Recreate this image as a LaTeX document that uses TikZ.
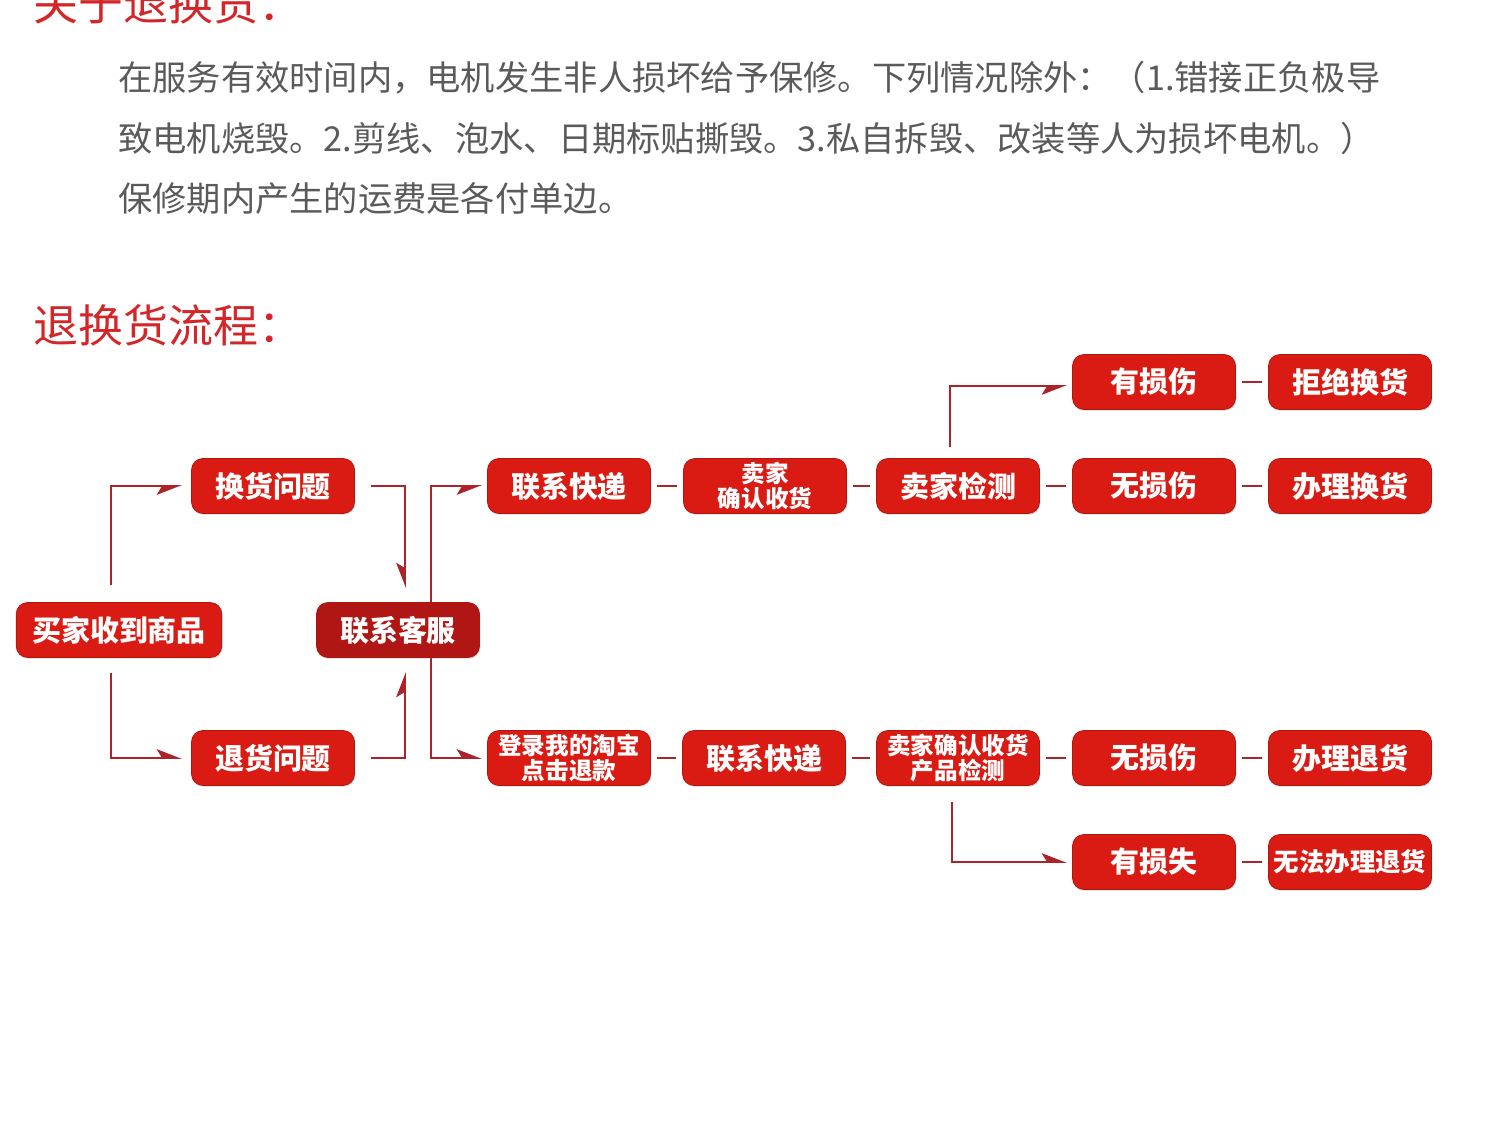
\documentclass[tikz,border=0pt]{standalone}
\usepackage{fontspec}
\setmainfont{Noto Sans CJK SC}
\usetikzlibrary{arrows.meta}
\usetikzlibrary{shadows,backgrounds}
\definecolor{myred}{RGB}{217,27,19}
\definecolor{mydarkred}{RGB}{176,22,20}
\definecolor{mylinered}{RGB}{172,36,42}
\definecolor{mytitlered}{RGB}{212,38,40}
\definecolor{mygray}{RGB}{90,90,90}
\tikzset{
    box/.style={fill=myred, draw=myred!80!black, line width=0.4pt, rounded corners=6.5pt,
        minimum width=92.8pt, minimum height=31.3pt, inner sep=0pt, align=center, text=white,
        font=\fontsize{16.5}{18}\selectfont\bfseries,
        drop shadow={opacity=0.3, shadow xshift=0.5pt, shadow yshift=-0.7pt}},
    twoline/.style={font=\fontsize{13.4}{14.2}\selectfont\bfseries},
    link/.style={mylinered, line width=1.1pt},
    joinline/.style={link, shorten <=3.4pt, shorten >=3.4pt},
    toL/.style={link, -{Stealth[harpoon, length=13pt, width=10pt, inset=3pt]}},
    toR/.style={link, -{Stealth[harpoon, swap, length=13pt, width=10pt, inset=3pt]}},
    para/.style={anchor=west, inner sep=0pt, text=mygray, font=\fontsize{19.5}{20}\selectfont},
    heading/.style={anchor=west, inner sep=0pt, text=mytitlered, font=\fontsize{25.6}{27}\selectfont},
}

\begin{document}
\begin{tikzpicture}[x=0.02cm, y=-0.02cm]
    \path[use as bounding box] (0,0) rectangle (1500,1128);
    \clip (0,0) rectangle (1500,1128);

    % texts
    \node[heading] (T1) at (33,3) {关于退换货：};
    \node[para] (P1) at (118,78) {在服务有效时间内，电机发生非人损坏给予保修。下列情况除外：（1.错接正负极导};
    \node[para] (P2) at (118,138) {致电机烧毁。2.剪线、泡水、日期标贴撕毁。3.私自拆毁、改装等人为损坏电机。）};
    \node[para] (P3) at (118,198) {保修期内产生的运费是各付单边。};
    \node[heading] (T2) at (33,325) {退换货流程：};

    % boxes
    \node[box, minimum width=117pt] (buyer) at (119,630) {买家收到商品};
    \node[box] (swap) at (273,486) {换货问题};
    \node[box] (back) at (273,758) {退货问题};
    \node[box, fill=mydarkred] (cs) at (398,630) {联系客服};
    \node[box] (ex1) at (569,486) {联系快递};
    \node[box, twoline] (ok1) at (765,486) {卖家\\确认收货};
    \node[box] (chk1) at (958,486) {卖家检测};
    \node[box] (dmg1) at (1154,382) {有损伤};
    \node[box] (rej1) at (1350,382) {拒绝换货};
    \node[box] (nod1) at (1154,486) {无损伤};
    \node[box] (do1) at (1350,486) {办理换货};
    \node[box, twoline] (tb) at (569,758) {登录我的淘宝\\点击退款};
    \node[box] (ex2) at (764,758) {联系快递};
    \node[box, twoline] (chk2) at (958,758) {卖家确认收货\\产品检测};
    \node[box] (nod2) at (1154,758) {无损伤};
    \node[box] (do2) at (1350,758) {办理退货};
    \node[box] (loss2) at (1154,862) {有损失};
    \node[box, font=\fontsize{14.5}{16}\selectfont\bfseries] (rej2) at (1350,862) {无法办理退货};

    \begin{scope}[on background layer]
    \draw[toR] ([shift={(-8,-17)}]buyer.north) |- ([shift={(-9,0)}]swap.west);
    \draw[toL] ([shift={(-8,15)}]buyer.south) |- ([shift={(-9,0)}]back.west);
    \draw[toR] ([shift={(16,0)}]swap.east) -| ([shift={(7,-14)}]cs.north);
    \draw[toL] ([shift={(16,0)}]back.east) -| ([shift={(7,14)}]cs.south);
    \draw[toR] ([shift={(33,0)}]cs.center) |- ([shift={(-5,0)}]ex1.west);
    \draw[toL] ([shift={(33,0)}]cs.center) |- ([shift={(-5,0)}]tb.west);
    \draw[toR] ([shift={(-8,-11)}]chk1.north) |- ([shift={(-5,4)}]dmg1.west);
    \draw[toL] ([shift={(-6,16)}]chk2.south) |- ([shift={(-5,0)}]loss2.west);
    \end{scope}

    \draw[joinline] (ex1) -- (ok1);
    \draw[joinline] (ok1) -- (chk1);
    \draw[joinline] (chk1) -- (nod1);
    \draw[joinline] (nod1) -- (do1);
    \draw[joinline] (dmg1) -- (rej1);
    \draw[joinline] (tb) -- (ex2);
    \draw[joinline] (ex2) -- (chk2);
    \draw[joinline] (chk2) -- (nod2);
    \draw[joinline] (nod2) -- (do2);
    \draw[joinline] (loss2) -- (rej2);

\end{tikzpicture}
\end{document}
